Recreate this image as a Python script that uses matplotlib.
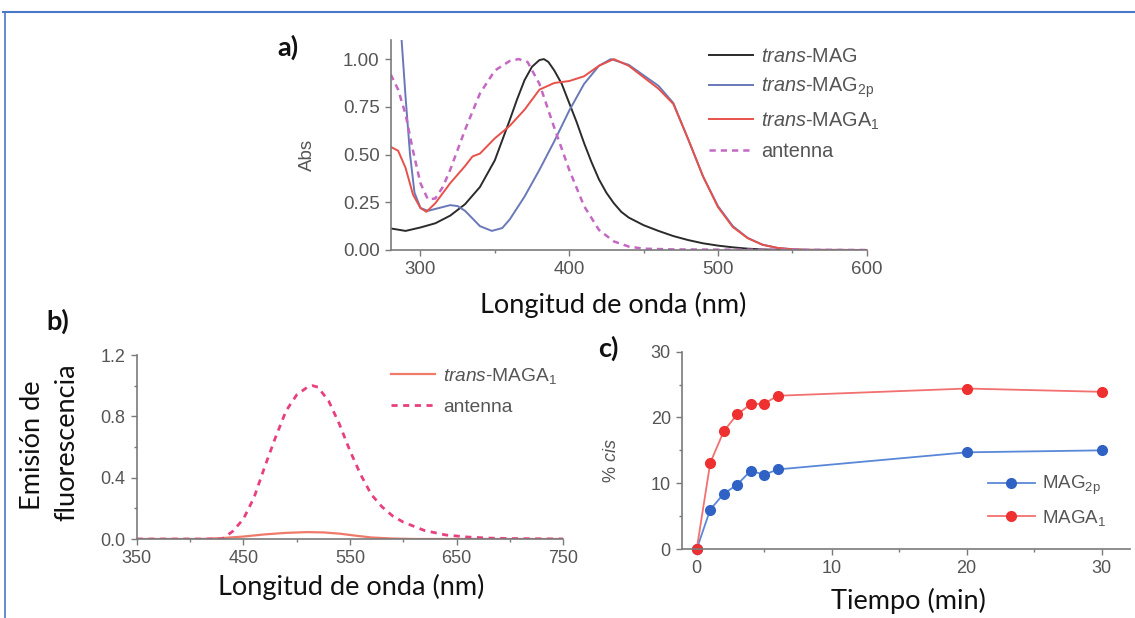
import matplotlib
matplotlib.use("Agg")
import matplotlib.pyplot as plt
from matplotlib.lines import Line2D
from matplotlib.ticker import MultipleLocator

plt.rcParams['font.family'] = ['Liberation Sans', 'DejaVu Sans']
plt.rcParams['mathtext.fontset'] = 'custom'
plt.rcParams['mathtext.rm'] = 'Liberation Sans'
plt.rcParams['mathtext.it'] = 'Liberation Sans:italic'

# ---------------- Panel a data (absorption) ----------------
wl_mag = [280, 290, 300, 310, 320, 330, 340, 350, 360, 365, 370, 375, 380, 383, 386, 390, 395, 400,
          405, 410, 415, 420, 425, 430, 435, 440, 445, 450, 460, 470, 480, 490, 500, 510, 520, 530,
          540, 560, 600]
abs_mag = [0.113, 0.10, 0.118, 0.14, 0.18, 0.24, 0.33, 0.47, 0.68, 0.79, 0.89, 0.96, 0.995, 1.0,
           0.985, 0.94, 0.87, 0.77, 0.67, 0.56, 0.46, 0.37, 0.30, 0.245, 0.20, 0.17, 0.15, 0.13,
           0.10, 0.073, 0.052, 0.035, 0.023, 0.014, 0.007, 0.003, 0.001, 0.0, 0.0]

wl_mag2p = [286, 290, 293, 296, 300, 305, 310, 320, 325, 330, 340, 348, 355, 360, 370, 380, 390, 400,
            410, 420, 428, 440, 450, 460, 470, 480, 490, 500, 510, 520, 530, 540, 550, 560, 600]
abs_mag2p = [1.25, 0.8, 0.5, 0.3, 0.22, 0.205, 0.215, 0.235, 0.23, 0.205, 0.125, 0.10, 0.115, 0.16,
             0.28, 0.42, 0.57, 0.73, 0.87, 0.965, 1.0, 0.97, 0.915, 0.86, 0.77, 0.58, 0.385, 0.23,
             0.125, 0.063, 0.028, 0.011, 0.004, 0.001, 0.0]

wl_maga1 = [280, 285, 290, 295, 300, 304, 310, 320, 330, 335, 340, 350, 360, 370, 380, 390, 400, 410,
            420, 430, 440, 450, 460, 470, 480, 490, 500, 510, 520, 530, 540, 550, 560, 600]
abs_maga1 = [0.54, 0.52, 0.43, 0.29, 0.22, 0.20, 0.245, 0.35, 0.44, 0.49, 0.505, 0.585, 0.65, 0.735,
             0.84, 0.875, 0.885, 0.91, 0.965, 1.0, 0.965, 0.905, 0.845, 0.765, 0.58, 0.385, 0.225,
             0.12, 0.062, 0.027, 0.011, 0.004, 0.001, 0.0]

wl_ant = [280, 285, 290, 295, 300, 305, 310, 315, 320, 330, 340, 350, 360, 366, 372, 380, 390, 400,
          410, 420, 430, 440, 450, 470, 500, 600]
abs_ant = [0.92, 0.84, 0.71, 0.52, 0.35, 0.265, 0.27, 0.33, 0.42, 0.63, 0.82, 0.94, 0.99, 1.0, 0.985,
           0.87, 0.64, 0.42, 0.23, 0.105, 0.045, 0.018, 0.007, 0.003, 0.002, 0.0]

# ---------------- Panel b data (emission) ----------------
wl_em_ant = [350, 430, 440, 450, 460, 470, 480, 490, 500, 510, 515, 520, 530, 540, 550, 560, 570,
             580, 590, 600, 620, 640, 660, 680, 700, 750]
em_ant = [0.0, 0.0, 0.05, 0.13, 0.27, 0.47, 0.66, 0.835, 0.94, 0.99, 1.0, 0.99, 0.90, 0.75, 0.575,
          0.42, 0.29, 0.21, 0.15, 0.11, 0.055, 0.026, 0.013, 0.006, 0.003, 0.0]
wl_em_maga1 = [350, 410, 430, 450, 470, 490, 510, 525, 540, 555, 570, 590, 610, 750]
em_maga1 = [0.0, 0.0, 0.006, 0.016, 0.03, 0.04, 0.045, 0.043, 0.035, 0.022, 0.01, 0.003, 0.0, 0.0]

# ---------------- Panel c data (% cis vs time) ----------------
t_min = [0, 1, 2, 3, 4, 5, 6, 20, 30]
cis_mag2p = [0, 6.0, 8.4, 9.8, 11.9, 11.3, 12.1, 14.7, 15.0]
cis_maga1 = [0, 13.1, 17.9, 20.5, 22.0, 22.1, 23.3, 24.4, 23.9]

W, H = 1135, 618
fig = plt.figure(figsize=(W / 100, H / 100), dpi=100)
fig.patch.set_facecolor('white')

TICK_C = '#555555'
SPINE_C = '#7a7a7a'
LAB_FONT = ['Lato', 'DejaVu Sans']
LAB_FS = 19.5


def style_axes(ax, fs):
    for s in ['top', 'right']:
        ax.spines[s].set_visible(False)
    for s in ['left', 'bottom']:
        ax.spines[s].set_color(SPINE_C)
        ax.spines[s].set_linewidth(1.2)
    ax.tick_params(which='major', direction='out', length=4, width=1.0, color=SPINE_C,
                   labelcolor=TICK_C, labelsize=fs, pad=4)
    ax.tick_params(which='minor', direction='out', length=2.5, width=1.0, color=SPINE_C)
    ax.patch.set_alpha(0)


def fig_ax(left, top, right, bottom):
    return fig.add_axes([left / W, 1 - bottom / H, (right - left) / W, (bottom - top) / H])


# ---------- Panel a ----------
axa = fig_ax(390.7, 40.0, 866.7, 250.0)
axa.plot(wl_mag, abs_mag, color='#2b2b2b', lw=1.4, label=r'$\it{trans}$-MAG')
axa.plot(wl_mag2p, abs_mag2p, color='#6a78b8', lw=1.4, label=r'$\it{trans}$-MAG$_{\mathrm{2p}}$')
axa.plot(wl_maga1, abs_maga1, color='#e8504a', lw=1.4, label=r'$\it{trans}$-MAGA$_{\mathrm{1}}$')
axa.plot(wl_ant, abs_ant, color='#c468c4', lw=1.8, ls=(0, (2.5, 2)), label='antenna')
axa.set_xlim(280, 600)
axa.set_ylim(0, 1.1)
axa.set_xticks([300, 400, 500, 600])
axa.xaxis.set_minor_locator(MultipleLocator(50))
axa.set_yticks([0, 0.25, 0.5, 0.75, 1.0])
axa.set_yticklabels(['0.00', '0.25', '0.50', '0.75', '1.00'])
style_axes(axa, 13.5)
axa.set_ylabel('Abs', color=TICK_C, fontsize=13.5)
axa.yaxis.set_label_coords((307 - 390.7) / 476, (250 - 155) / 210)
axa.yaxis.label.set_va('center')
axa.set_xlabel('Longitud de onda (nm)', family=LAB_FONT, fontsize=LAB_FS, color='#111111')
axa.xaxis.set_label_coords((613 - 390.7) / 476, -(305 - 250) / 210)
axa.xaxis.label.set_va('center')
leg = axa.legend(loc='upper left', bbox_to_anchor=((709 - 390.7) / 476, (250 - 47) / 210),
                 frameon=False, fontsize=14.3, handlelength=2.2, handletextpad=0.4,
                 labelspacing=0.5, borderaxespad=0, borderpad=0)
for txt in leg.get_texts():
    txt.set_color(TICK_C)

# ---------- Panel b ----------
axb = fig_ax(136.7, 355.0, 563.3, 539.0)
axb.plot(wl_em_maga1, em_maga1, color='#f07a6a', lw=1.6, label=r'$\it{trans}$-MAGA$_{\mathrm{1}}$')
axb.plot(wl_em_ant, em_ant, color='#e8407f', lw=2.0, ls=(0, (2.2, 2)), label='antenna')
axb.set_xlim(350, 750)
axb.set_ylim(0, 1.2)
axb.set_xticks([350, 450, 550, 650, 750])
axb.xaxis.set_minor_locator(MultipleLocator(50))
axb.set_yticks([0, 0.4, 0.8, 1.2])
axb.set_yticklabels(['0.0', '0.4', '0.8', '1.2'])
axb.yaxis.set_minor_locator(MultipleLocator(0.2))
style_axes(axb, 13)
axb.set_xlabel('Longitud de onda (nm)', family=LAB_FONT, fontsize=LAB_FS, color='#111111')
axb.xaxis.set_label_coords((351 - 136.7) / 426.6, -(587 - 539) / 184)
axb.xaxis.label.set_va('center')
leg = axb.legend(loc='upper left', bbox_to_anchor=((391 - 136.7) / 426.6, (539 - 366) / 184),
                 frameon=False, fontsize=13.8, handlelength=2.3, handletextpad=0.4,
                 labelspacing=0.65, borderaxespad=0, borderpad=0)
for txt in leg.get_texts():
    txt.set_color(TICK_C)
fig.text(33 / W, 1 - 445 / H, 'Emisión de', family=LAB_FONT, fontsize=LAB_FS, color='#111111',
         rotation=90, ha='center', va='center')
fig.text(67 / W, 1 - 442 / H, 'fluorescencia', family=LAB_FONT, fontsize=LAB_FS, color='#111111',
         rotation=90, ha='center', va='center')

# ---------- Panel c ----------
axc = fig_ax(681.9, 351.7, 1130.0, 549.0)
axc.plot(t_min, cis_mag2p, color='#5a88d8', lw=1.3, marker='o', ms=7, mfc='#2f62c4', mec='#2f62c4',
         clip_on=False, label=r'MAG$_{\mathrm{2p}}$')
axc.plot(t_min, cis_maga1, color='#f27070', lw=1.3, marker='o', ms=7, mfc='#ee3030', mec='#ee3030',
         clip_on=False, label=r'MAGA$_{\mathrm{1}}$')
axc.set_xlim(-1.1, 32.1)
axc.set_ylim(0, 30)
axc.set_xticks([0, 10, 20, 30])
axc.xaxis.set_minor_locator(MultipleLocator(5))
axc.set_yticks([0, 10, 20, 30])
axc.yaxis.set_minor_locator(MultipleLocator(5))
style_axes(axc, 13)
axc.set_ylabel(r'% $\it{cis}$', color=TICK_C, fontsize=13)
axc.yaxis.set_label_coords((611 - 681.9) / 448.1, (549 - 461) / 197.3)
axc.yaxis.label.set_va('center')
axc.set_xlabel('Tiempo (min)', family=LAB_FONT, fontsize=LAB_FS, color='#111111')
axc.xaxis.set_label_coords((908 - 681.9) / 448.1, -(601 - 549) / 197.3)
axc.xaxis.label.set_va('center')
leg = axc.legend(loc='upper left', bbox_to_anchor=((988 - 681.9) / 448.1, (549 - 474) / 197.3),
                 frameon=False, fontsize=13.5, handlelength=2.5, handletextpad=0.4,
                 labelspacing=0.55, borderaxespad=0, borderpad=0)
for txt in leg.get_texts():
    txt.set_color(TICK_C)

# ---------- Panel letters ----------
for lab, x, y in [('a)', 288, 47), ('b)', 58, 321), ('c)', 608, 348)]:
    fig.text(x / W, 1 - y / H, lab, family=LAB_FONT, fontsize=LAB_FS, fontweight='bold',
             color='#111111', ha='center', va='center')

# ---------- Frame lines ----------
fig.add_artist(Line2D([3 / W, 1.0], [1 - 12 / H, 1 - 12 / H], transform=fig.transFigure,
                      color='#4a78c8', lw=1.5))
fig.add_artist(Line2D([5 / W, 5 / W], [1 - 12 / H, 0.0], transform=fig.transFigure,
                      color='#4a78c8', lw=1.2))

fig.savefig('out.png', dpi=100)
